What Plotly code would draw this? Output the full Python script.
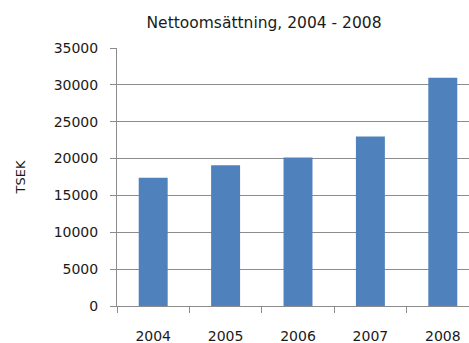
import plotly.graph_objects as go

years = ["2004", "2005", "2006", "2007", "2008"]
revenue = [17400, 19100, 20150, 23000, 30950]
y_ticks = [0, 5000, 10000, 15000, 20000, 25000, 30000, 35000]

font_family = "DejaVu Sans, Open Sans, sans-serif"
grid_col = "#8c8c8c"

fig = go.Figure(
    go.Bar(x=years, y=revenue, marker=dict(color="#4F81BD", line=dict(width=0)))
)

fig.update_layout(
    width=469,
    height=343,
    margin=dict(l=117, r=0, t=48, b=37),
    paper_bgcolor="white",
    plot_bgcolor="white",
    bargap=0.6,
    showlegend=False,
    font=dict(family=font_family, size=14, color="#1a1a1a"),
    title=dict(
        text="Nettoomsättning, 2004 - 2008",
        x=0.563,
        xanchor="center",
        y=0.935,
        yanchor="middle",
        font=dict(size=15.5),
    ),
)

fig.update_xaxes(
    type="category",
    range=[-0.5, 4.362],
    tickson="boundaries",
    ticks="outside",
    ticklen=6,
    tickcolor=grid_col,
    showline=True,
    linecolor=grid_col,
    linewidth=1,
    showgrid=False,
    ticklabelstandoff=17,
    tickfont=dict(size=14),
)

fig.update_yaxes(
    range=[0, 35000],
    tickvals=y_ticks,
    ticktext=[str(v) for v in y_ticks],
    ticks="outside",
    ticklen=6,
    tickcolor=grid_col,
    showline=True,
    linecolor=grid_col,
    linewidth=1,
    showgrid=True,
    gridcolor=grid_col,
    gridwidth=1,
    zeroline=False,
    ticklabelstandoff=9,
    tickfont=dict(size=14),
    title=dict(text="TSEK", standoff=25, font=dict(size=13)),
)

fig.write_html("out.html")
